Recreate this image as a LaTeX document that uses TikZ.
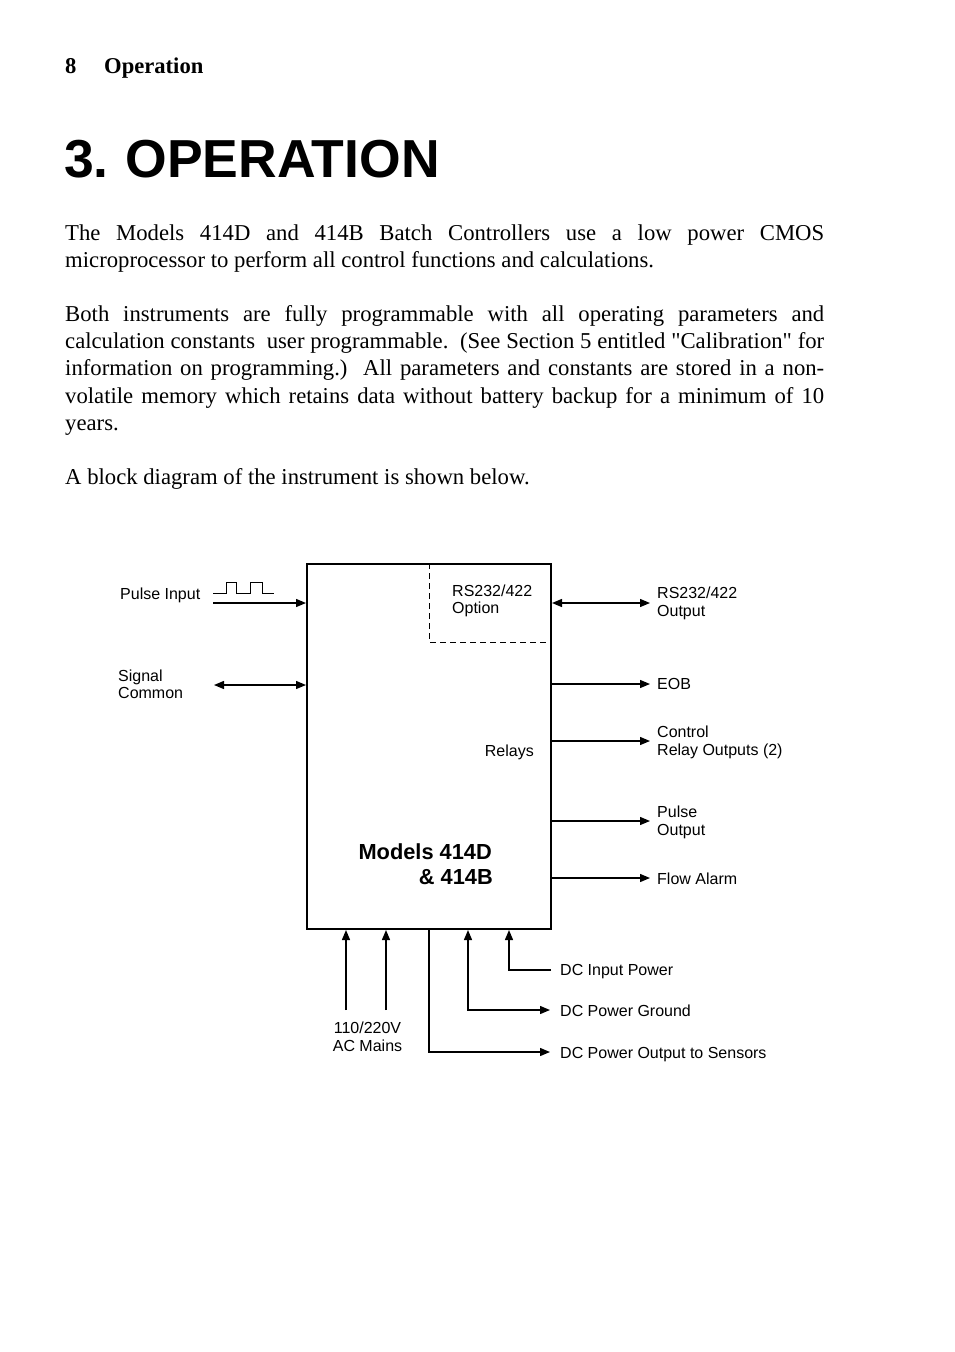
\documentclass[tikz,border=0pt]{standalone}
\usepackage{fontspec}
\setmainfont{Liberation Serif}[Ligatures=TeXOff]
\setsansfont{Liberation Sans}
\usetikzlibrary{arrows.meta}
\begin{document}
\begin{tikzpicture}[x=1pt,y=-1pt,
  lbl/.style={font=\sffamily\fontsize{16}{19}\selectfont, inner sep=0pt, anchor=base west},
  lble/.style={lbl, anchor=base east},
  lblc/.style={lbl, anchor=base},
  bigl/.style={font=\sffamily\bfseries\fontsize{21.8}{25}\selectfont, inner sep=0pt, anchor=base east},
  tip/.tip={Triangle[length=10pt,width=8pt]},
  arr/.style={line width=1.3pt, -tip},
  darr/.style={line width=1.3pt, tip-tip},
  wire/.style={line width=1.3pt},
  dashbox/.style={line width=1pt, dash pattern=on 6pt off 4pt},
  body/.style={font=\fontsize{22.7}{27.1}\selectfont, inner sep=0pt, anchor=base west, text width=759pt, align=justify},
  head/.style={font=\bfseries\fontsize{22.6}{27}\selectfont, inner sep=0pt, anchor=base west},
  title/.style={font=\sffamily\bfseries\fontsize{53.5}{60}\selectfont, inner sep=0pt, anchor=base west},
]
\useasboundingbox[fill=white] (0,0) rectangle (954,1352);

% page header and text
\node[head] (pgnum) at (65,73) {8};
\node[head] (pghead) at (104,73) {Operation};
\node[title] (title) at (64,177) {3.\hspace{-3pt} OPERATION};

\node[body] (para1) at (65,240.7) {\hbox to 759pt{The Models 414D and 414B Batch Controllers use a low power CMOS}\\
microprocessor to perform all control functions and calculations.};

\node[body] (para2) at (65,321.7) {\hbox to 759pt{Both instruments are fully programmable with all operating parameters and}\\
\hbox to 759pt{calculation constants\ \ user programmable.\ \ (See Section 5 entitled "Calibration" for}\\
\hbox to 759pt{information on programming.)\ \ All parameters and constants are stored in a non-}\\
\hbox to 759pt{volatile memory which retains data without battery backup for a minimum of 10}\\
years.};

\node[body] (para3) at (65,484.6) {A block diagram of the instrument is shown below.};

% main block
\node[draw, line width=2pt, minimum width=244pt, minimum height=365pt, inner sep=0pt, anchor=north west] (ctrl) at (306,563) {};
\draw[dashbox] (429,563) -- (429,642) -- (549,642);
\node[lbl] (opt1) at (452,596) {RS232/422};
\node[lbl] (opt2) at (452,613) {Option};
\node[lble] (relays) at (534,756) {Relays};
\node[bigl] (mod1) at (492,859) {Models 414D};
\node[bigl] (mod2) at (493,884) {\& 414B};

% left side
\draw[line width=1pt] (213,593) -- (226,593) -- (226,582) -- (236,582) -- (236,593) -- (250,593) -- (250,582) -- (262,582) -- (262,593) -- (274,593);
\coordinate (pin) at (213,603);
\draw[arr] (pin) -- (pin -| ctrl.west);
\node[lbl] (pinl) at (120,599) {Pulse Input};
\coordinate (sc) at (214,685);
\draw[darr] (sc) -- (sc -| ctrl.west);
\node[lbl] (scl1) at (118,681) {Signal};
\node[lbl] (scl2) at (118,698) {Common};

% right side
\coordinate (rso) at (650,603);
\draw[darr] (rso -| ctrl.east) -- (rso);
\node[lbl] (rsol1) at (657,598) {RS232/422};
\node[lbl] (rsol2) at (657,616) {Output};
\coordinate (eob) at (650,684);
\draw[arr] (eob -| ctrl.east) -- (eob);
\node[lbl] (eobl) at (657,689) {EOB};
\coordinate (rel) at (650,741);
\draw[arr] (rel -| ctrl.east) -- (rel);
\node[lbl] (rell1) at (657,737) {Control};
\node[lbl] (rell2) at (657,755) {Relay Outputs (2)};
\coordinate (po) at (650,821);
\draw[arr] (po -| ctrl.east) -- (po);
\node[lbl] (pol1) at (657,817) {Pulse};
\node[lbl] (pol2) at (657,835) {Output};
\coordinate (fa) at (650,878);
\draw[arr] (fa -| ctrl.east) -- (fa);
\node[lbl] (fal) at (657,884) {Flow Alarm};

% bottom side
\coordinate (ac1) at (346,1010);
\coordinate (ac2) at (386,1010);
\draw[arr] (ac1) -- (ac1 |- ctrl.south);
\draw[arr] (ac2) -- (ac2 |- ctrl.south);
\node[lblc] (acl1) at (367.5,1033) {110/220V};
\node[lblc] (acl2) at (367.5,1051) {AC Mains};

\coordinate (dco) at (550,1052);
\draw[arr] (ctrl.south) -- (ctrl.south |- dco) -- (dco);
\node[lbl] (dcol) at (560,1058) {DC Power Output to Sensors};

\coordinate (dcg) at (550,1010);
\coordinate (dcgc) at (468,1010);
\draw[darr] (dcg) -- (dcgc) -- (dcgc |- ctrl.south);
\node[lbl] (dcgl) at (560,1016) {DC Power Ground};

\coordinate (dci) at (551,970);
\coordinate (dcic) at (509,970);
\draw[arr] (dci) -- (dcic) -- (dcic |- ctrl.south);
\node[lbl] (dcil) at (560,975) {DC Input Power};
\end{tikzpicture}
\end{document}
